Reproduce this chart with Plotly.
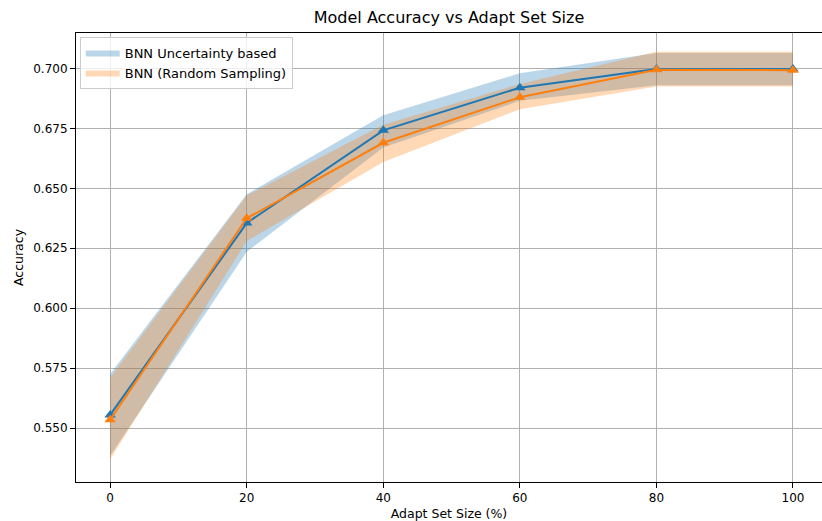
import plotly.graph_objects as go

x_vals = [0, 20, 40, 60, 80, 100]

unc_mean = [0.5555, 0.6355, 0.6742, 0.6920, 0.6998, 0.6998]
unc_lower = [0.5385, 0.6235, 0.6670, 0.6865, 0.6930, 0.6930]
unc_upper = [0.5725, 0.6475, 0.6805, 0.6980, 0.7065, 0.7065]

rnd_mean = [0.5535, 0.6375, 0.6690, 0.6880, 0.6995, 0.6993]
rnd_lower = [0.5370, 0.6280, 0.6610, 0.6830, 0.6925, 0.6925]
rnd_upper = [0.5710, 0.6470, 0.6765, 0.6935, 0.7070, 0.7070]

x_ticks = [0, 20, 40, 60, 80, 100]
y_ticks = [0.550, 0.575, 0.600, 0.625, 0.650, 0.675, 0.700]

BLUE = "#1f77b4"
ORANGE = "#ff7f0e"

fig = go.Figure()

fig.add_trace(go.Scatter(
    x=x_vals + x_vals[::-1], y=unc_upper + unc_lower[::-1],
    fill="toself", fillcolor="rgba(31,119,180,0.3)", line=dict(width=0),
    mode="lines", name="BNN Uncertainty based", hoverinfo="skip"))
fig.add_trace(go.Scatter(
    x=x_vals + x_vals[::-1], y=rnd_upper + rnd_lower[::-1],
    fill="toself", fillcolor="rgba(255,127,14,0.3)", line=dict(width=0),
    mode="lines", name="BNN (Random Sampling)", hoverinfo="skip"))

fig.add_trace(go.Scatter(
    x=x_vals, y=unc_mean, mode="lines+markers", showlegend=False,
    line=dict(color=BLUE, width=2),
    marker=dict(symbol="triangle-up", size=10, color=BLUE)))
fig.add_trace(go.Scatter(
    x=x_vals, y=rnd_mean, mode="lines+markers", showlegend=False,
    line=dict(color=ORANGE, width=2),
    marker=dict(symbol="triangle-up", size=10, color=ORANGE)))

font = dict(family="DejaVu Sans", size=12, color="black")

fig.update_layout(
    width=822, height=521,
    margin=dict(l=76, r=0, t=33, b=39),
    paper_bgcolor="white", plot_bgcolor="white",
    font=font,
    title=dict(text="Model Accuracy vs Adapt Set Size", x=0.5, xref="paper",
               xanchor="center", y=1 - 17 / 521, yanchor="middle",
               font=dict(family="DejaVu Sans", size=16, color="black")),
    legend=dict(x=0.005, y=0.992, xanchor="left", yanchor="top",
                bgcolor="rgba(255,255,255,0.8)", bordercolor="#cccccc",
                borderwidth=1, font=dict(family="DejaVu Sans", size=13, color="black"),
                tracegroupgap=0, itemwidth=34),
    showlegend=True,
)

fig.update_xaxes(
    range=[-5, 104.25], tickvals=x_ticks, ticktext=[str(v) for v in x_ticks],
    showgrid=True, gridcolor="#b0b0b0", gridwidth=1,
    showline=True, linecolor="black", linewidth=1, mirror=True,
    ticks="outside", ticklen=5, tickcolor="black", zeroline=False,
    title=dict(text="Adapt Set Size (%)", standoff=4,
               font=dict(family="DejaVu Sans", size=12.5, color="black")),
)
fig.update_yaxes(
    range=[0.5275, 0.7148], tickvals=y_ticks, ticktext=[f"{v:.3f}" for v in y_ticks],
    showgrid=True, gridcolor="#b0b0b0", gridwidth=1,
    showline=True, linecolor="black", linewidth=1, mirror=False,
    ticks="outside", ticklen=5, tickcolor="black", zeroline=False,
    title=dict(text="Accuracy", standoff=6,
               font=dict(family="DejaVu Sans", size=12.5, color="black")),
)

fig.write_html("out.html", config={"displayModeBar": False},
               post_script="document.body.style.margin='0';document.body.style.padding='0';")
